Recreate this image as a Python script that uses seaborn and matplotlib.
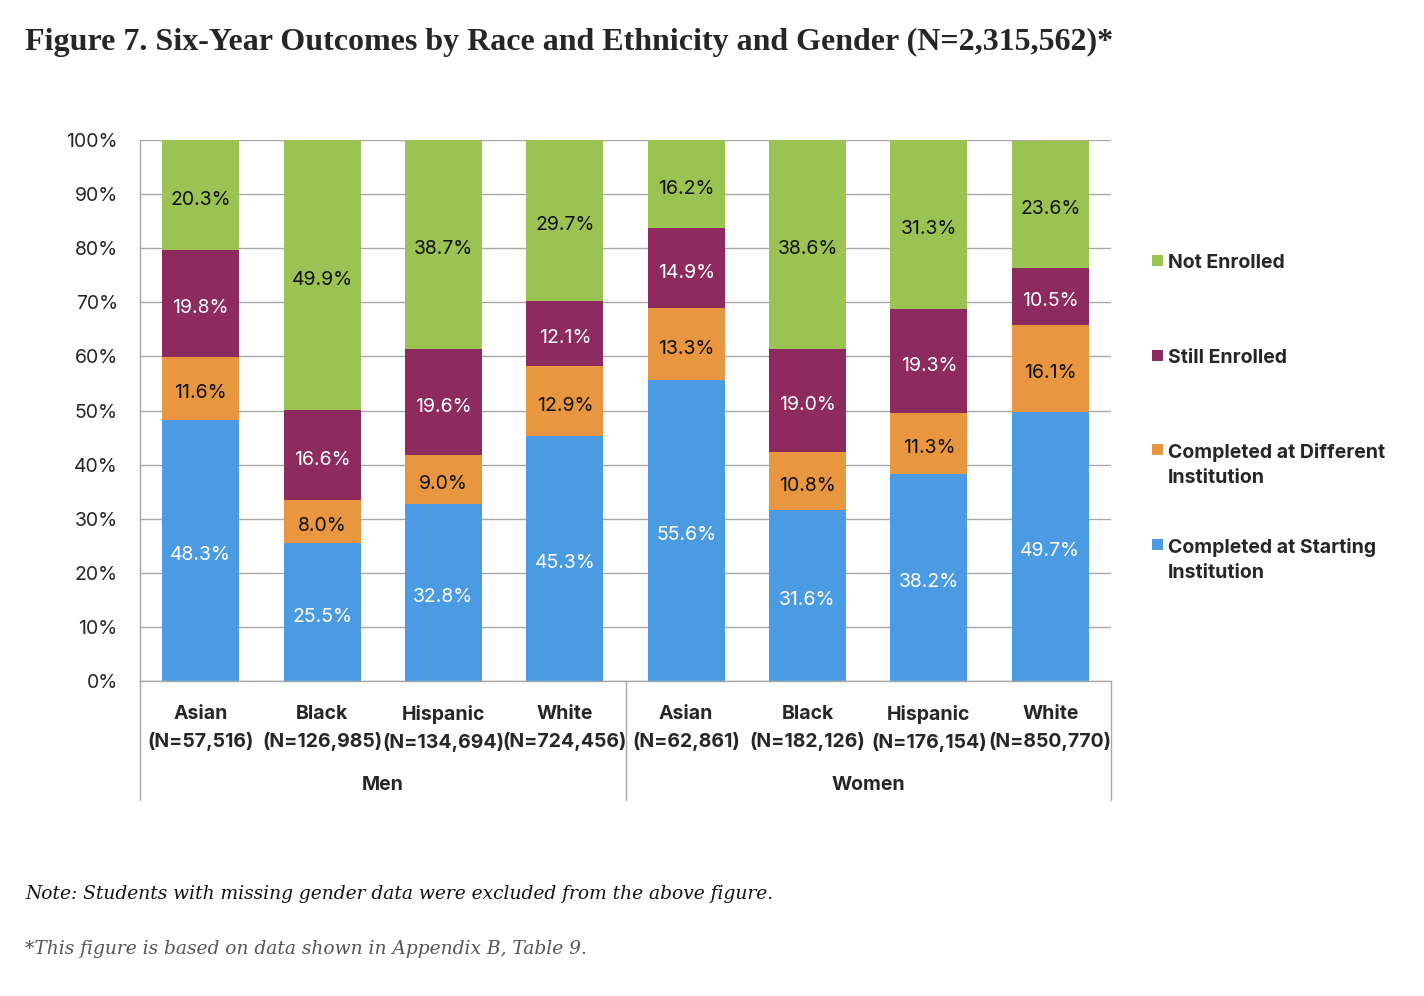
import numpy as np
import pandas as pd
import matplotlib
matplotlib.use("Agg")
import matplotlib.pyplot as plt
import seaborn as sns
from matplotlib.patches import Rectangle

# ---------------------------
# data
# ---------------------------
races = ["Asian", "Black", "Hispanic", "White", "Asian", "Black", "Hispanic", "White"]
counts = ["57,516", "126,985", "134,694", "724,456", "62,861", "182,126", "176,154", "850,770"]
genders = ["Men", "Women"]

completed_start = [48.3, 25.5, 32.8, 45.3, 55.6, 31.6, 38.2, 49.7]
completed_diff = [11.6, 8.0, 9.0, 12.9, 13.3, 10.8, 11.3, 16.1]
still_enrolled = [19.8, 16.6, 19.6, 12.1, 14.9, 19.0, 19.3, 10.5]
not_enrolled = [20.3, 49.9, 38.7, 29.7, 16.2, 38.6, 31.3, 23.6]

outcomes = ["Completed at Starting\nInstitution", "Completed at Different\nInstitution",
            "Still Enrolled", "Not Enrolled"]
colors = ["#4A9BE2", "#E8963F", "#8E2B5E", "#9BC354"]
text_colors = ["white", "#111111", "white", "#111111"]

labels = [f"{r}\n(N={n})" for r, n in zip(races, counts)]
values = np.array([completed_start, completed_diff, still_enrolled, not_enrolled])
cum = values.cumsum(axis=0)

rows = []
for i, name in enumerate(outcomes):
    for j, lab in enumerate(labels):
        rows.append({"label": lab, "outcome": name, "value": values[i, j],
                     "cum": cum[i, j], "bottom": cum[i, j] - values[i, j]})
df = pd.DataFrame(rows)

# ---------------------------
# plot
# ---------------------------
sns.set_style("white")
plt.rcParams["font.family"] = ["Inter", "DejaVu Sans"]
FS = 14

fig = plt.figure(figsize=(14.24, 9.96), dpi=100)
ax = fig.add_axes([140 / 1424, 1 - 681 / 996, 971 / 1424, 541 / 996])

# stacked bars: draw cumulative totals from the top layer down
for i in reversed(range(len(outcomes))):
    sub = df[df["outcome"] == outcomes[i]]
    sns.barplot(data=sub, x="label", y="cum", order=labels, color=colors[i],
                saturation=1, width=0.635, ax=ax, errorbar=None, linewidth=0)

# segment labels
for i in range(len(outcomes)):
    sub = df[df["outcome"] == outcomes[i]]
    for j, lab in enumerate(labels):
        r = sub[sub["label"] == lab].iloc[0]
        ax.text(j, r["bottom"] + r["value"] / 2 - 0.5, f"{r['value']:.1f}%", ha="center",
                va="center_baseline", fontsize=FS, color=text_colors[i])

ax.set_ylim(0, 100)
ax.set_xlim(-0.5, len(labels) - 0.5)
ax.set_yticks(np.arange(0, 101, 10))
ax.set_yticklabels([f"{v}%" for v in range(0, 101, 10)], fontsize=FS)
ax.set_axisbelow(True)
ax.yaxis.grid(True, color="#A8A8A8", lw=1)
ax.tick_params(axis="y", length=0, pad=16)
ax.tick_params(axis="x", length=0, pad=17.5)
ax.set_xticks(range(len(labels)))
ax.set_xticklabels(labels, fontsize=FS, fontweight="bold", linespacing=1.58)
ax.set_xlabel("")
ax.set_ylabel("")
for side in ["top", "right"]:
    ax.spines[side].set_visible(False)
for side in ["left", "bottom"]:
    ax.spines[side].set_color("#A8A8A8")
    ax.spines[side].set_linewidth(1)

# group dividers and group names below the axis
trans = ax.get_xaxis_transform()
for x in [-0.5, 3.5, 7.5]:
    ax.plot([x, x], [0, -119 / 541], color="#A8A8A8", lw=1, transform=trans, clip_on=False)
for k, g in enumerate(genders):
    ax.text(1.5 + 4 * k, -104 / 541, g, transform=trans, ha="center", va="center",
            fontsize=FS, fontweight="bold")

# legend (handles line up with the first line of each label)
legend_y = [261, 356, 450, 545]
for name, col, y in zip(reversed(outcomes), reversed(colors), legend_y):
    fig.add_artist(Rectangle((1152 / 1424, 1 - (y + 5) / 996), 11 / 1424, 11 / 996,
                             transform=fig.transFigure, color=col, lw=0))
    fig.text(1168 / 1424, 1 - (y - 7) / 996, name, ha="left", va="top", fontsize=FS,
             fontweight="bold", linespacing=1.5)

# title and notes
fig.text(25 / 1424, 1 - 42 / 996,
         "Figure 7. Six-Year Outcomes by Race and Ethnicity and Gender (N=2,315,562)*",
         ha="left", va="center", fontsize=23, fontweight="bold", family="Liberation Serif")
fig.text(25 / 1424, 1 - 894 / 996,
         "Note: Students with missing gender data were excluded from the above figure.",
         ha="left", va="center", fontsize=13.4, style="italic", family="DejaVu Serif",
         color="#111111")
fig.text(25 / 1424, 1 - 949 / 996,
         "*This figure is based on data shown in Appendix B, Table 9.",
         ha="left", va="center", fontsize=13.4, style="italic", family="DejaVu Serif",
         color="#555555")

fig.savefig("out.png", dpi=100)
